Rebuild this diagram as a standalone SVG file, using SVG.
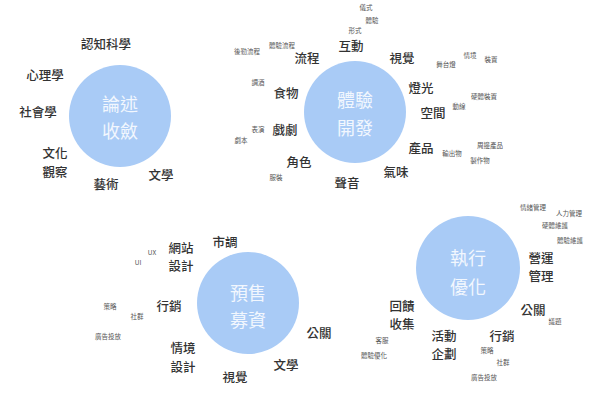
<svg xmlns="http://www.w3.org/2000/svg" width="600" height="409" viewBox="0 0 600 409">
<style>
text{font-family:"Noto Sans CJK TC","Noto Sans CJK SC",sans-serif;text-anchor:middle;dominant-baseline:central}
.c{fill:#a9cbf6}
.ct{fill:#f2f7fe;font-size:18px}
.b{fill:#333;font-size:12.5px;font-weight:500}
.s{fill:#555;font-size:6.5px}
</style>
<rect width="600" height="409" fill="#fff"/>
<g id="node-lunshu">
<circle class="c" cx="120" cy="116" r="51"/>
<text class="ct" x="120" y="103">論述</text>
<text class="ct" x="120" y="130">收斂</text>
</g>
<g id="labels-lunshu">
<text class="b" x="106" y="43">認知科學</text>
<text class="b" x="45" y="74">心理學</text>
<text class="b" x="38" y="111">社會學</text>
<text class="b" x="55" y="152">文化</text>
<text class="b" x="55" y="171">觀察</text>
<text class="b" x="106" y="183">藝術</text>
<text class="b" x="161" y="174">文學</text>
</g>
<g id="node-tiyan">
<circle class="c" cx="355" cy="112" r="51"/>
<text class="ct" x="355" y="99">體驗</text>
<text class="ct" x="355" y="127">開發</text>
</g>
<g id="labels-tiyan">
<text class="b" x="351" y="45">互動</text>
<text class="b" x="307" y="57">流程</text>
<text class="b" x="402" y="57">視覺</text>
<text class="b" x="286" y="92">食物</text>
<text class="b" x="421" y="87">燈光</text>
<text class="b" x="433" y="112">空間</text>
<text class="b" x="285" y="129">戲劇</text>
<text class="b" x="299" y="161">角色</text>
<text class="b" x="347" y="182">聲音</text>
<text class="b" x="396" y="171">氣味</text>
<text class="b" x="421" y="147">產品</text>
<text class="s" x="366" y="7">儀式</text>
<text class="s" x="372" y="20">體驗</text>
<text class="s" x="355" y="30">形式</text>
<text class="s" x="282" y="45">體驗流程</text>
<text class="s" x="247" y="51">後勤流程</text>
<text class="s" x="258" y="82">調酒</text>
<text class="s" x="258" y="129">表演</text>
<text class="s" x="241" y="140">劇本</text>
<text class="s" x="276" y="177">服裝</text>
<text class="s" x="446" y="64">舞台燈</text>
<text class="s" x="470" y="55">情境</text>
<text class="s" x="491" y="59">裝置</text>
<text class="s" x="484" y="96">硬體裝置</text>
<text class="s" x="459" y="106">動線</text>
<text class="s" x="490" y="145">周邊產品</text>
<text class="s" x="452" y="153">輸出物</text>
<text class="s" x="480" y="160">製作物</text>
</g>
<g id="node-yushou">
<circle class="c" cx="248" cy="303" r="51"/>
<text class="ct" x="248" y="292">預售</text>
<text class="ct" x="248" y="319">募資</text>
</g>
<g id="labels-yushou">
<text class="b" x="225" y="241">市調</text>
<text class="b" x="181" y="247">網站</text>
<text class="b" x="181" y="265">設計</text>
<text class="s" x="152" y="252">UX</text>
<text class="s" x="138" y="262">UI</text>
<text class="b" x="169" y="305">行銷</text>
<text class="s" x="110" y="306">策略</text>
<text class="s" x="137" y="316">社群</text>
<text class="s" x="108" y="336">廣告投放</text>
<text class="b" x="183" y="347">情境</text>
<text class="b" x="183" y="366">設計</text>
<text class="b" x="235" y="376">視覺</text>
<text class="b" x="286" y="364">文學</text>
<text class="b" x="319" y="332">公關</text>
</g>
<g id="node-zhixing">
<circle class="c" cx="468" cy="268" r="52"/>
<text class="ct" x="468" y="257">執行</text>
<text class="ct" x="468" y="286">優化</text>
</g>
<g id="labels-zhixing">
<text class="s" x="533" y="207">情緒管理</text>
<text class="s" x="569" y="213">人力管理</text>
<text class="s" x="555" y="225">硬體維護</text>
<text class="s" x="570" y="240">體驗維護</text>
<text class="b" x="541" y="257">營運</text>
<text class="b" x="541" y="275">管理</text>
<text class="b" x="533" y="309">公關</text>
<text class="s" x="555" y="321">議題</text>
<text class="b" x="502" y="335">行銷</text>
<text class="s" x="487" y="350">策略</text>
<text class="s" x="503" y="362">社群</text>
<text class="s" x="484" y="377">廣告投放</text>
<text class="b" x="402" y="305">回饋</text>
<text class="b" x="402" y="323">收集</text>
<text class="b" x="444" y="335">活動</text>
<text class="b" x="444" y="353">企劃</text>
<text class="s" x="382" y="340">客服</text>
<text class="s" x="374" y="355">體驗優化</text>
</g>
</svg>
